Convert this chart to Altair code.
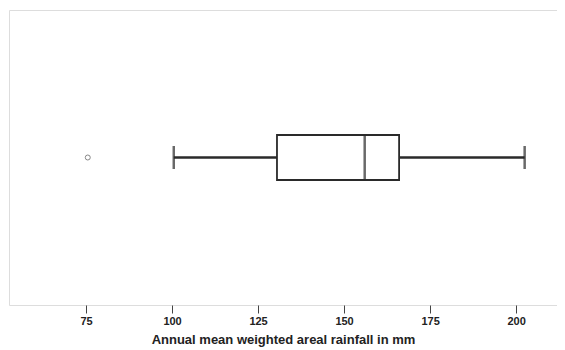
import altair as alt
import pandas as pd

# Summary statistics (mm)
group = ["all"]
whisker_low = [100.5]
q1 = [130.5]
median = [156.0]
q3 = [166.0]
whisker_high = [202.5]
outliers = [75.5]

stats = pd.DataFrame({
    "g": group, "lo": whisker_low, "q1": q1, "med": median,
    "q3": q3, "hi": whisker_high,
})
outl = pd.DataFrame({"g": group * len(outliers), "v": outliers})

xscale = alt.Scale(domain=[52.6, 211.9], nice=False, zero=False)
xaxis = alt.Axis(
    values=[75, 100, 125, 150, 175, 200], domain=False, grid=False,
    tickColor="#444", tickSize=8, tickWidth=1, labelPadding=2,
    labelFont="Liberation Sans", labelFontSize=11, labelFontWeight="bold",
    labelColor="#222",
    title="Annual mean weighted areal rainfall in mm",
    titleFont="Liberation Sans", titleFontSize=13, titleFontWeight="bold",
    titleColor="#222", titlePadding=7,
)
yenc = alt.Y("g:N", axis=None, scale=alt.Scale(paddingInner=0, paddingOuter=0))

base = alt.Chart(stats)
dark = "#2a2a2a"

whisk_lo = base.mark_rule(color=dark, strokeWidth=2.5).encode(
    x=alt.X("lo:Q", scale=xscale, axis=xaxis), x2="q1:Q", y=yenc)
whisk_hi = base.mark_rule(color=dark, strokeWidth=2.5).encode(
    x=alt.X("q3:Q", scale=xscale), x2="hi:Q", y=yenc)
box = base.mark_bar(size=45, fill="white", stroke=dark, strokeWidth=1.8).encode(
    x=alt.X("q1:Q", scale=xscale), x2="q3:Q", y=yenc)
med = base.mark_tick(size=45, thickness=2.5, color=dark, orient="vertical").encode(
    x=alt.X("med:Q", scale=xscale), y=yenc)
cap_lo = base.mark_tick(size=23, thickness=2.5, color=dark, orient="vertical").encode(
    x=alt.X("lo:Q", scale=xscale), y=yenc)
cap_hi = base.mark_tick(size=23, thickness=2.5, color=dark, orient="vertical").encode(
    x=alt.X("hi:Q", scale=xscale), y=yenc)
pts = alt.Chart(outl).mark_point(shape="circle", size=25, filled=False,
                                 color="#555", strokeWidth=1).encode(
    x=alt.X("v:Q", scale=xscale), y=yenc)

chart = alt.layer(whisk_lo, whisk_hi, box, med, cap_lo, cap_hi, pts).properties(
    width=548, height=295,
    autosize=alt.AutoSizeParams(type="none"),
    padding={"left": 1, "top": 2, "right": 0, "bottom": 45},
).configure_view(stroke="#b0b0b0", strokeWidth=2).configure(background="white")

chart.save("out.html", embed_options={"renderer": "svg", "actions": False})
